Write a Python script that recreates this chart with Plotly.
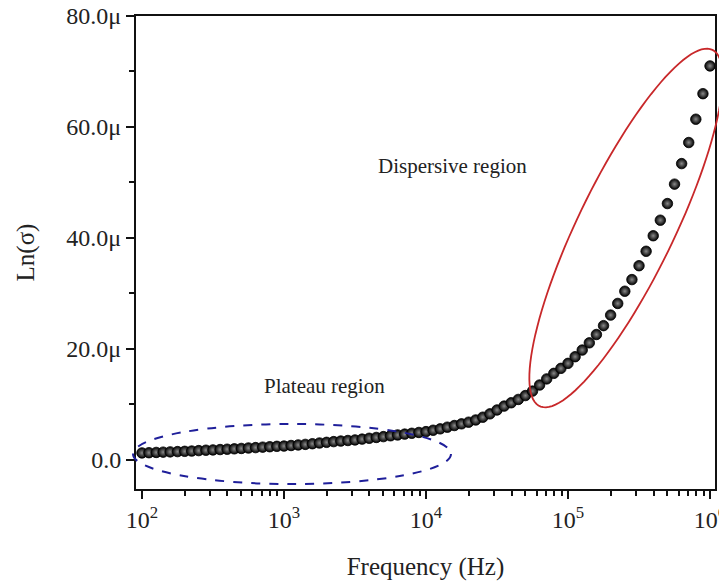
import numpy as np
import plotly.graph_objects as go

# ---- data ----
frequency_hz = [100, 112, 126, 141, 158, 178, 200, 224, 251, 282, 316, 355, 398, 447, 501, 562, 631, 708, 794, 891,
                1000, 1122, 1259, 1413, 1585, 1778, 1995, 2239, 2512, 2818, 3162, 3548, 3981, 4467, 5012, 5623, 6310, 7079, 7943, 8913,
                10000, 11220, 12589, 14125, 15849, 17783, 19953, 22387, 25119, 28184, 31623, 35481, 39811, 44668, 50119, 56234, 63096, 70795, 79433, 89125,
                100000, 112202, 125893, 141254, 158489, 177828, 199526, 223872, 251189, 281838, 316228, 354813, 398107, 446684, 501187, 562341, 630957, 707946, 794328, 891251,
                1000000]
ln_sigma_micro = [1.26, 1.30, 1.35, 1.40, 1.45, 1.50, 1.55, 1.60, 1.68, 1.75,
                  1.80, 1.87, 1.93, 2.00, 2.07, 2.15, 2.22, 2.30, 2.38, 2.45,
                  2.50, 2.60, 2.70, 2.80, 2.92, 3.05, 3.17, 3.30, 3.40, 3.50,
                  3.60, 3.75, 3.90, 4.05, 4.20, 4.35, 4.50, 4.65, 4.80, 4.95,
                  5.10, 5.35, 5.60, 5.90, 6.20, 6.50, 6.80, 7.20, 7.70, 8.30,
                  9.00, 9.70, 10.3, 10.9, 11.6, 12.4, 13.5, 14.6, 15.6, 16.5,
                  17.4, 18.6, 19.8, 21.1, 22.6, 24.2, 26.1, 28.2, 30.4, 32.5,
                  35.0, 37.6, 40.4, 43.2, 46.2, 49.7, 53.4, 57.2, 61.4, 66.0,
                  71.0]
y_tick_vals = [0, 20, 40, 60, 80]
y_tick_text = ["0.0", "20.0μ", "40.0μ", "60.0μ", "80.0μ"]
x_tick_vals = [1e2, 1e3, 1e4, 1e5, 1e6]
x_tick_text = ["10<sup>2</sup>", "10<sup>3</sup>", "10<sup>4</sup>", "10<sup>5</sup>", "10<sup>6</sup>"]

FONT = "Liberation Serif"
PAGE_OFF = 8                      # default body margin of the html page
W, H = 727 - PAGE_OFF, 586 - PAGE_OFF
# plot box in screen pixels
PX_L, PX_R, PX_T, PX_B = 136, 715, 16, 489
L, T = PX_L - PAGE_OFF, PX_T - PAGE_OFF
R = W + PAGE_OFF - PX_R
B = H + PAGE_OFF - PX_B

fig = go.Figure()
fig.add_trace(go.Scatter(
    x=frequency_hz, y=ln_sigma_micro, mode="markers",
    marker=dict(size=10.5, color="#000000",
                gradient=dict(type="radial", color="#8a8a8a"),
                line=dict(color="#000000", width=0.8)),
    showlegend=False, hoverinfo="skip"))

# screen pixel -> paper helper for the hand-drawn region outlines
pw, ph = PX_R - PX_L, PX_B - PX_T
def px2paper(px, py):
    return (px - PX_L) / pw, (PX_B - py) / ph

# blue dashed ellipse (plateau region)
x0p, y0p = px2paper(133, 484)
x1p, y1p = px2paper(451, 424)
fig.add_shape(type="circle", xref="paper", yref="paper", x0=x0p, y0=y0p, x1=x1p, y1=y1p,
              line=dict(color="#1f1f9a", width=2, dash="dash"), layer="above")

# red tilted ellipse (dispersive region)
cx, cy, a, b, ang = 626, 228, 198, 48, np.deg2rad(64.1)
t = np.linspace(0, 2 * np.pi, 120)
ex = cx + a * np.cos(t) * np.cos(ang) - b * np.sin(t) * np.sin(ang)
ey = cy - (a * np.cos(t) * np.sin(ang) + b * np.sin(t) * np.cos(ang))
pts = [px2paper(u, v) for u, v in zip(ex, ey)]
path = "M " + " L ".join(f"{u:.5f},{v:.5f}" for u, v in pts) + " Z"
fig.add_shape(type="path", xref="paper", yref="paper", path=path,
              line=dict(color="#c8282a", width=1.8), layer="above")

fig.add_annotation(x=px2paper(262, 400)[0], y=px2paper(262, 400)[1], xref="paper", yref="paper",
                   text="Plateau region", showarrow=False,
                   font=dict(family=FONT, size=21, color="#222"))
fig.add_annotation(x=px2paper(529, 152)[0], y=px2paper(529, 152)[1], xref="paper", yref="paper",
                   text="Dispersive region", showarrow=False,
                   font=dict(family=FONT, size=21, color="#222"))

axis_common = dict(showline=True, linecolor="#111", linewidth=2, mirror=True,
                   showgrid=False, zeroline=False, ticks="outside", tickcolor="#111",
                   tickwidth=1.8, ticklen=8, automargin=False, ticklabeloverflow="allow",
                   tickfont=dict(family=FONT, size=24, color="#222"))

fig.update_xaxes(type="log", range=[1.958, 6.035], tickvals=x_tick_vals, ticktext=x_tick_text,
                 minor=dict(ticks="outside", ticklen=5, tickwidth=1.5, tickcolor="#111",
                            tickvals=[m * 10 ** d for d in range(2, 6) for m in range(2, 10)]),
                 title=dict(text="Frequency (Hz)", font=dict(family=FONT, size=25, color="#222"), standoff=26),
                 **axis_common)
fig.update_yaxes(range=[-5.24, 80], tickvals=y_tick_vals, ticktext=y_tick_text,
                 minor=dict(ticks="outside", ticklen=5, tickwidth=1.5, tickcolor="#111", dtick=10, tick0=0),
                 title=dict(text="Ln(σ)", font=dict(family=FONT, size=25, color="#222"), standoff=25),
                 **axis_common)

fig.update_layout(width=W, height=H, autosize=False,
                  margin=dict(l=L, r=R, t=T, b=B),
                  plot_bgcolor="white", paper_bgcolor="white")

fig.write_html("out.html")
